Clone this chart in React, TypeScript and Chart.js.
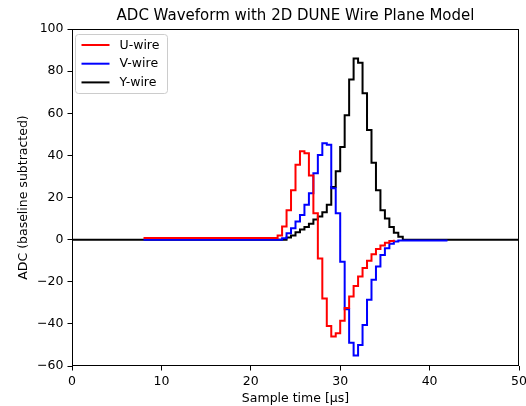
import { useEffect, useRef } from "react";
import { Chart, registerables } from "chart.js";

Chart.register(...registerables);

const chartTitle = "ADC Waveform with 2D DUNE Wire Plane Model";
const xAxisTitle = "Sample time [μs]";
const yAxisTitle = "ADC (baseline subtracted)";
const seriesLabels = ["U-wire", "V-wire", "Y-wire"];
const seriesColors = ["#ff0000", "#0000ff", "#000000"];
const xTicks = [0, 10, 20, 30, 40, 50];
const yTicks = [-60, -40, -20, 0, 20, 40, 60, 80, 100];

// step breakpoints (value holds from time[i] until time[i+1])
const uTimes = [8, 23, 23.5, 24, 24.5, 25, 25.5, 26, 26.5, 27, 27.5, 28, 28.5, 29, 29.5, 30, 30.5, 31, 31.5, 32, 32.5, 33, 33.5, 34, 34.5, 35, 35.5, 36];
const uValues = [0.8, 2, 6.2, 14, 23.5, 35.5, 42, 41, 30.5, 12.5, -9, -28, -41, -46, -44.5, -38.5, -32.5, -27, -22, -17.5, -13.5, -10, -7, -4.5, -2.8, -1.5, -0.6, 0];

const vTimes = [8, 23.5, 24, 24.5, 25, 25.5, 26, 26.5, 27, 27.5, 28, 28.5, 29, 29.5, 30, 30.5, 31, 31.5, 32, 32.5, 33, 33.5, 34, 34.5, 35, 35.5, 36, 36.5, 42];
const vValues = [0, 0.7, 3, 5.4, 8.6, 11.7, 16.5, 22, 31.5, 40.2, 45.8, 45, 24.4, 12.5, -10.5, -33, -49, -55, -50, -40.5, -28.6, -19, -12.8, -7.3, -4.1, -2, -0.9, -0.4, -0.4];

const yTimes = [0, 24, 24.5, 25, 25.5, 26, 26.5, 27, 27.5, 28, 28.5, 29, 29.5, 30, 30.5, 31, 31.5, 32, 32.5, 33, 33.5, 34, 34.5, 35, 35.5, 36, 36.5, 37, 50];
const yValues = [0, 1, 2, 3.5, 4.8, 6, 7.5, 9.5, 11, 13, 16.5, 25, 32.5, 44, 59, 76, 86, 84, 69.5, 52, 36.5, 23.5, 14, 10, 6, 3.3, 1.4, 0, 0];

const FONT = '"DejaVu Sans", "Liberation Sans", sans-serif';

const toPoints = (ts: number[], vs: number[]) => ts.map((t, i) => ({ x: t, y: vs[i] }));

const framePlugin = {
  id: "frameAndExtras",
  afterDatasetsDraw(chart: any) {
    const { ctx, chartArea } = chart;
    const l = Math.round(chartArea.left) + 0.5;
    const t = Math.round(chartArea.top) + 0.5;
    const r = Math.round(chartArea.right) - 0.5;
    const b = Math.round(chartArea.bottom) - 0.5;
    ctx.save();
    ctx.strokeStyle = "#000";
    ctx.lineWidth = 1;
    ctx.strokeRect(l, t, r - l, b - t);

    // legend box
    const x0 = chartArea.left + 3.5;
    const y0 = chartArea.top + 5.5;
    const w = 92;
    const h = 59;
    ctx.beginPath();
    ctx.roundRect(x0, y0, w, h, 3);
    ctx.fillStyle = "rgba(255,255,255,0.8)";
    ctx.fill();
    ctx.strokeStyle = "#cccccc";
    ctx.stroke();
    chart.data.datasets.forEach((ds: any, i: number) => {
      const y = y0 + 10.5 + i * 18.7;
      ctx.strokeStyle = ds.borderColor;
      ctx.lineWidth = 2;
      ctx.beginPath();
      ctx.moveTo(x0 + 6, y);
      ctx.lineTo(x0 + 34, y);
      ctx.stroke();
      ctx.fillStyle = "#000";
      ctx.font = `12.5px ${FONT}`;
      ctx.textBaseline = "middle";
      ctx.textAlign = "left";
      ctx.fillText(ds.label, x0 + 44, y + 0.5);
    });

    // title
    ctx.fillStyle = "#000";
    ctx.font = `15px ${FONT}`;
    ctx.textAlign = "center";
    ctx.textBaseline = "alphabetic";
    ctx.fillText(chartTitle, (chartArea.left + chartArea.right) / 2, 20);
    ctx.restore();
  },
};

export default function App() {
  const canvasRef = useRef<HTMLCanvasElement | null>(null);

  useEffect(() => {
    const canvas = canvasRef.current;
    if (!canvas) return;
    const tickFont = { family: FONT, size: 12.5 };
    const chart = new Chart(canvas, {
      type: "line",
      data: {
        datasets: [
          { label: seriesLabels[0], data: toPoints(uTimes, uValues), borderColor: seriesColors[0], backgroundColor: seriesColors[0], borderWidth: 2, stepped: true, pointRadius: 0, fill: false },
          { label: seriesLabels[1], data: toPoints(vTimes, vValues), borderColor: seriesColors[1], backgroundColor: seriesColors[1], borderWidth: 2, stepped: true, pointRadius: 0, fill: false },
          { label: seriesLabels[2], data: toPoints(yTimes, yValues), borderColor: seriesColors[2], backgroundColor: seriesColors[2], borderWidth: 2, stepped: true, pointRadius: 0, fill: false },
        ],
      },
      options: {
        animation: false,
        responsive: false,
        devicePixelRatio: 1,
        layout: { padding: { top: 29, right: 7, bottom: 0, left: 0 } },
        plugins: { legend: { display: false }, title: { display: false }, tooltip: { enabled: false } },
        scales: {
          x: {
            type: "linear",
            min: 0,
            max: 50,
            afterBuildTicks: (s: any) => { s.ticks = xTicks.map((v) => ({ value: v })); },
            afterFit: (s: any) => { s.height = 40; s.paddingLeft = 0; s.paddingRight = 0; },
            ticks: { color: "#000", font: tickFont, padding: 4, maxRotation: 0, autoSkip: false },
            grid: { display: true, drawOnChartArea: false, drawTicks: true, tickLength: 4.5, color: "#000" },
            border: { display: false },
            title: { display: true, text: xAxisTitle, color: "#000", font: tickFont, padding: { top: 0, bottom: 0 } },
          },
          y: {
            type: "linear",
            min: -60,
            max: 100,
            afterBuildTicks: (s: any) => { s.ticks = yTicks.map((v) => ({ value: v })); },
            afterFit: (s: any) => { s.width = 72; s.paddingTop = 0; s.paddingBottom = 0; },
            ticks: { color: "#000", font: tickFont, padding: 4, autoSkip: false, callback: (v: any) => String(v).replace("-", "\u2212") },
            grid: { display: true, drawOnChartArea: false, drawTicks: true, tickLength: 4.5, color: "#000" },
            border: { display: false },
            title: { display: true, text: yAxisTitle, color: "#000", font: tickFont, padding: { top: 16, bottom: 0 } },
          },
        },
      },
      plugins: [framePlugin],
    } as any);
    return () => chart.destroy();
  }, []);

  return (
    <div style={{ position: "absolute", left: 0, top: 0, width: 526, height: 406, background: "#fff" }}>
      <canvas ref={canvasRef} width={526} height={406} style={{ width: 526, height: 406, display: "block" }} />
    </div>
  );
}
